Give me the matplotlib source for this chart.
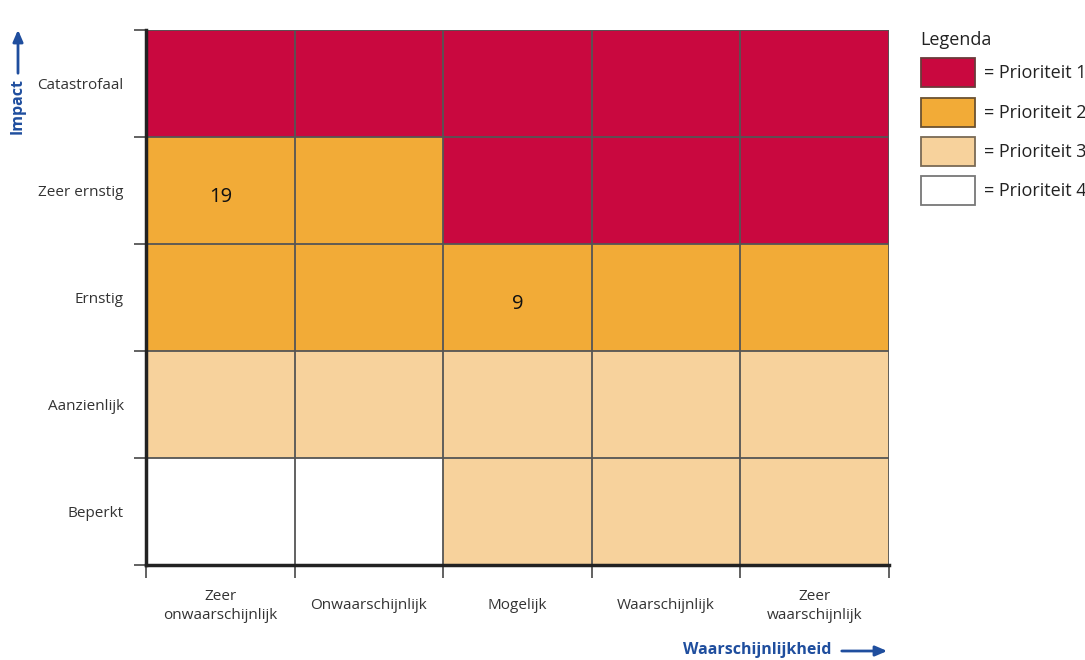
import matplotlib
matplotlib.use("Agg")
import matplotlib.pyplot as plt
import numpy as np
from matplotlib.colors import ListedColormap, BoundaryNorm
from matplotlib.patches import Rectangle, FancyArrowPatch

plt.rcParams['font.family'] = ['Open Sans', 'DejaVu Sans']

likelihood = ["Zeer\nonwaarschijnlijk", "Onwaarschijnlijk", "Mogelijk",
              "Waarschijnlijk", "Zeer\nwaarschijnlijk"]
impact = ["Beperkt", "Aanzienlijk", "Ernstig", "Zeer ernstig", "Catastrofaal"]
# priority per cell, rows bottom (Beperkt) to top (Catastrofaal)
priority = [
    [4, 4, 3, 3, 3],
    [3, 3, 3, 3, 3],
    [2, 2, 2, 2, 2],
    [2, 2, 1, 1, 1],
    [1, 1, 1, 1, 1],
]
# numbers written in cells: (likelihood index, impact index, text)
cell_numbers = [(0, 3, "19"), (2, 2, "9")]
legend_labels = ["= Prioriteit 1", "= Prioriteit 2", "= Prioriteit 3", "= Prioriteit 4"]

colors = ["#C9083F", "#F2AB37", "#F7D29C", "#FFFFFF"]
edge_colors = ["#6b3a3a", "#6b5230", "#7a6a55", "#777777"]
cmap = ListedColormap(colors)
norm = BoundaryNorm([0.5, 1.5, 2.5, 3.5, 4.5], cmap.N)

fig = plt.figure(figsize=(10.85, 6.6), dpi=100)
W, H = 1085, 660
ax = fig.add_axes([146 / W, 1 - 565 / H, (889 - 146) / W, (565 - 30) / H])

data = np.array(priority)
ax.pcolormesh(np.arange(6), np.arange(6), data, cmap=cmap, norm=norm)
ax.set_xlim(0, 5)
ax.set_ylim(0, 5)

for i in range(1, 6):
    ax.axvline(i, color="#555555", lw=1.3, zorder=3)
    ax.axhline(i, color="#555555", lw=1.3, zorder=3)

for s in ["top", "right"]:
    ax.spines[s].set_visible(False)
for s in ["left", "bottom"]:
    ax.spines[s].set_linewidth(2.5)
    ax.spines[s].set_color("#222222")
    ax.spines[s].set_zorder(4)

ax.set_xticks(np.arange(5) + 0.5)
ax.set_xticklabels(likelihood, fontsize=11, color="#333333", linespacing=1.3,
                   va="center")
ax.set_yticks(np.arange(5) + 0.5)
ax.set_yticklabels(impact, fontsize=11, color="#333333")
ax.tick_params(axis="both", which="major", length=0)
ax.tick_params(axis="x", which="major", pad=29.5)
ax.tick_params(axis="y", which="major", pad=16)
ax.set_xticks(np.arange(6), minor=True)
ax.set_yticks(np.arange(6), minor=True)
ax.tick_params(axis="both", which="minor", length=9, width=1.3, color="#555555",
               direction="out")

for xi, yi, t in cell_numbers:
    ax.text(xi + 0.5, yi + 0.44, t, ha="center", va="center", fontsize=14.5,
            color="#111111", zorder=5)

blue = "#1F4E9E"
# Impact axis label with arrow
fig.text(18 / W, 1 - 106 / H, "Impact", rotation=90, ha="center", va="center",
         fontsize=11.5, fontweight="bold", color=blue)
fig.add_artist(FancyArrowPatch(
    (18 / W, 1 - 76 / H), (18 / W, 1 - 27 / H), transform=fig.transFigure,
    arrowstyle="-|>,head_length=7,head_width=3", color=blue, lw=2,
    mutation_scale=1))
# Waarschijnlijkheid label with arrow
fig.text(831 / W, 1 - 650 / H, "Waarschijnlijkheid", ha="right", va="center",
         fontsize=11.5, fontweight="bold", color=blue)
fig.add_artist(FancyArrowPatch(
    (839 / W, 1 - 651 / H), (890 / W, 1 - 651 / H), transform=fig.transFigure,
    arrowstyle="-|>,head_length=7,head_width=3", color=blue, lw=2,
    mutation_scale=1))

# Legend
fig.text(920 / W, 1 - 40 / H, "Legenda", ha="left", va="center", fontsize=13,
         color="#222222")
box_tops = [58, 98, 137, 176]
for top, c, ec, lab in zip(box_tops, colors, edge_colors, legend_labels):
    fig.add_artist(Rectangle((921 / W, 1 - (top + 29) / H), 54 / W, 29 / H,
                             transform=fig.transFigure, facecolor=c,
                             edgecolor=ec, lw=1.3))
    fig.text(984 / W, 1 - (top + 15) / H, lab, ha="left", va="center",
             fontsize=13, color="#222222")

fig.savefig("out.png", dpi=100, facecolor="white")
